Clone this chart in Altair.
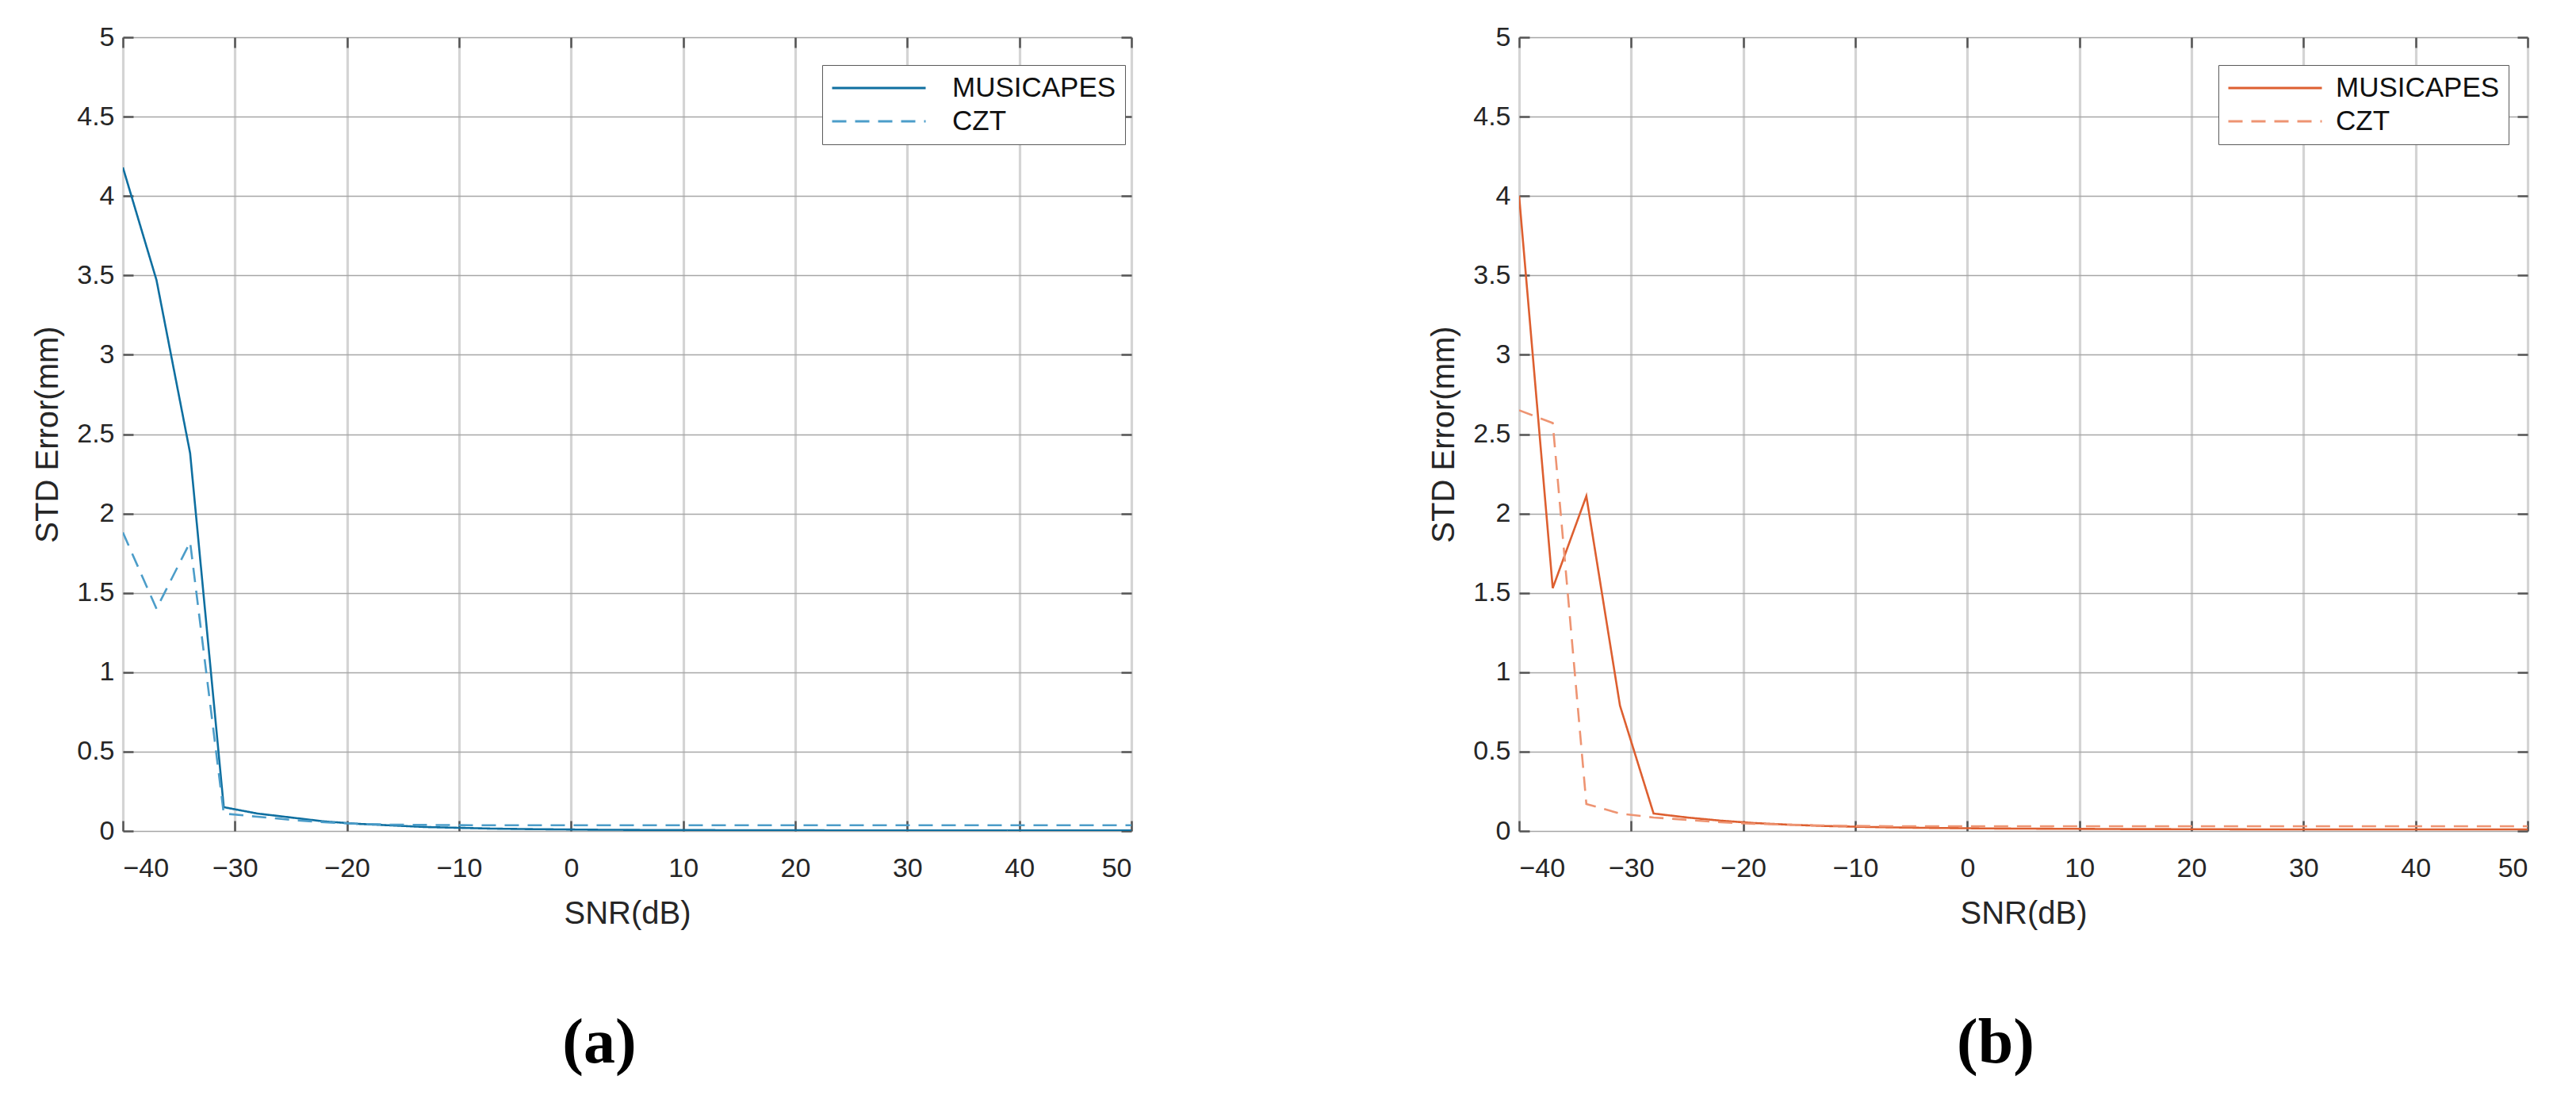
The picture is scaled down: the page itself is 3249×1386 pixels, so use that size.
import altair as alt
import pandas as pd

# ---------------- data ----------------
snr = [-40, -37, -34, -31, -28, -25, -22, -19, -16, -13, -10, -7, -4, -1, 2, 5,
       8, 11, 14, 17, 20, 23, 26, 29, 32, 35, 38, 41, 44, 47, 50]

a_musicapes = [4.18, 3.47, 2.38, 0.15, 0.11, 0.085, 0.06, 0.045, 0.035, 0.025, 0.02,
               0.015, 0.012, 0.010, 0.008, 0.007, 0.006, 0.006, 0.005, 0.005, 0.005,
               0.004, 0.004, 0.004, 0.004, 0.003, 0.003, 0.003, 0.003, 0.003, 0.003]
a_czt = [1.88, 1.40, 1.82, 0.11, 0.09, 0.07, 0.055, 0.045, 0.040, 0.038, 0.037,
         0.036, 0.036, 0.036, 0.036, 0.036, 0.036, 0.036, 0.036, 0.036, 0.036,
         0.036, 0.036, 0.036, 0.036, 0.036, 0.036, 0.036, 0.036, 0.036, 0.036]

b_musicapes = [4.00, 1.53, 2.11, 0.79, 0.11, 0.085, 0.065, 0.05, 0.04, 0.032, 0.027,
               0.023, 0.020, 0.018, 0.016, 0.015, 0.014, 0.013, 0.012, 0.012, 0.011,
               0.011, 0.010, 0.010, 0.010, 0.010, 0.010, 0.010, 0.010, 0.010, 0.010]
b_czt = [2.65, 2.57, 0.17, 0.11, 0.085, 0.07, 0.055, 0.045, 0.040, 0.035, 0.032,
         0.030, 0.030, 0.030, 0.030, 0.030, 0.030, 0.030, 0.030, 0.030, 0.030,
         0.030, 0.030, 0.030, 0.030, 0.030, 0.030, 0.030, 0.030, 0.030, 0.030]

series = ["MUSICAPES", "CZT"]
x_ticks = [-40, -30, -20, -10, 0, 10, 20, 30, 40, 50]
y_ticks = [0, 0.5, 1, 1.5, 2, 2.5, 3, 3.5, 4, 4.5, 5]

colors_a = ["#0F6FA0", "#4C9DC9"]
colors_b = ["#DD5F30", "#EE9472"]

FONT = "Liberation Sans"
W, H = 1272, 1001
TICK = "#555555"


def panel(music, czt, colors, label, label_offset):
    n = len(snr)
    df = pd.DataFrame({
        "snr": snr + snr,
        "err": music + czt,
        "series": ["MUSICAPES"] * n + ["CZT"] * n,
    })
    xs = alt.Scale(domain=[-40, 50], nice=False, zero=False)
    ys = alt.Scale(domain=[0, 5], nice=False)

    leg = alt.Legend(title=None, orient="none", legendX=882, legendY=35,
                     symbolType="stroke", symbolSize=118 * 118, clipHeight=36,
                     labelOffset=label_offset, symbolStrokeWidth=3,
                     labelFont=FONT, labelFontSize=35, labelColor="#111111",
                     fillColor="white", strokeColor="#5a5a5a", padding=11,
                     rowPadding=6, labelLimit=400)

    lines = alt.Chart(df).mark_line(strokeWidth=2.6, clip=True).encode(
        x=alt.X("snr:Q", scale=xs,
                axis=alt.Axis(values=x_ticks, title="SNR(dB)", grid=True,
                              gridColor="#d4d4d4", gridWidth=3.2, ticks=False,
                              tickSize=0, domain=False, labelFontSize=34,
                              labelPadding=30, titleFontSize=40, titlePadding=20,
                              labelFont=FONT, titleFont=FONT,
                              titleFontWeight="normal", labelColor="#262626",
                              titleColor="#262626")),
        y=alt.Y("err:Q", scale=ys,
                axis=alt.Axis(values=y_ticks, format="~g", title="STD Error(mm)",
                              grid=True, gridColor="#a6a6a6", gridWidth=1.6,
                              ticks=False, tickSize=0, domain=False,
                              labelFontSize=34, labelPadding=11, titleFontSize=40,
                              titlePadding=16, labelFont=FONT, titleFont=FONT,
                              titleFontWeight="normal", labelColor="#262626",
                              titleColor="#262626")),
        color=alt.Color("series:N", scale=alt.Scale(domain=series, range=colors),
                        legend=leg),
        strokeDash=alt.StrokeDash("series:N",
                                  scale=alt.Scale(domain=series,
                                                  range=[[1, 0], [18, 11]]),
                                  legend=leg),
    )

    def tick_axis(orient):
        return alt.Axis(orient=orient, offset=-13,
                        values=(x_ticks if orient in ("top", "bottom") else y_ticks),
                        labels=False, domain=False, grid=False, ticks=True,
                        tickSize=13, tickColor=TICK, tickWidth=2.5, title=None)

    ticks_lb = alt.Chart(df).mark_line(opacity=0).encode(
        x=alt.X("snr:Q", scale=xs, axis=tick_axis("bottom")),
        y=alt.Y("err:Q", scale=ys, axis=tick_axis("left")),
    )
    ticks_tr = alt.Chart(df).mark_line(opacity=0).encode(
        x=alt.X("snr:Q", scale=xs, axis=tick_axis("top")),
        y=alt.Y("err:Q", scale=ys, axis=tick_axis("right")),
    )

    return alt.layer(lines, ticks_lb, ticks_tr).resolve_axis(
        x="independent", y="independent"
    ).properties(
        width=W, height=H,
        title=alt.TitleParams(text=label, orient="bottom", anchor="middle",
                              font="Liberation Serif", fontSize=80,
                              fontWeight="bold", color="black", offset=105, dx=-35),
    )


left = panel(a_musicapes, a_czt, colors_a, "(a)", 32)
right = panel(b_musicapes, b_czt, colors_b, "(b)", 16)

chart = alt.hconcat(left, right, spacing=489, bounds="flush").resolve_scale(
    color="independent", strokeDash="independent"
).resolve_legend(color="independent", strokeDash="independent").properties(
    padding={"left": 32, "top": 21, "right": 5, "bottom": 5}
).configure_view(
    stroke="#555555", strokeWidth=3
).configure_legend(
    strokeWidth=2.5,
).configure(background="white")

chart.save("out.html", embed_options={"renderer": "svg", "actions": False})
